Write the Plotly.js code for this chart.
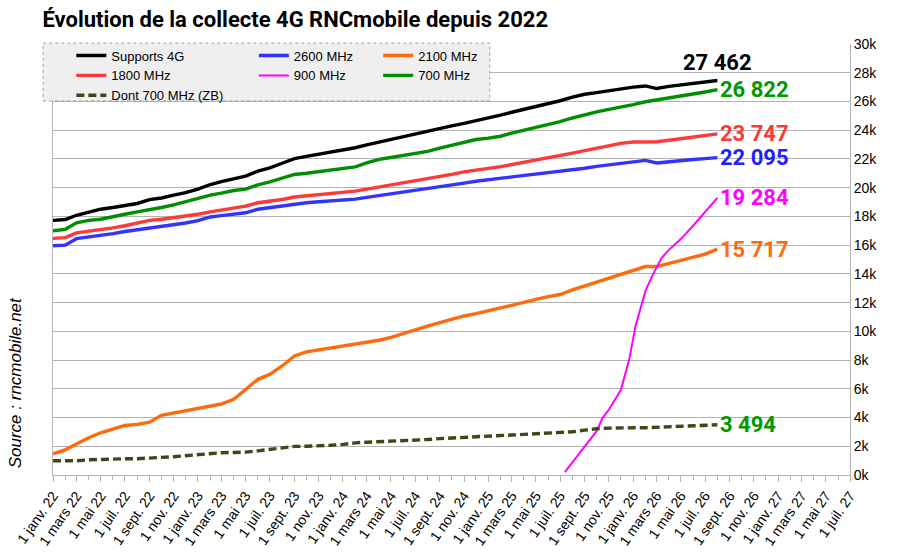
<!DOCTYPE html>
<html>
<head>
<meta charset="utf-8">
<script src="https://cdn.plot.ly/plotly-3.0.1.min.js"></script>
<style>
  html, body { margin: 0; padding: 0; background: #fff; }
  #myDiv { width: 903px; height: 553px; }
</style>
</head>
<body>
<div id="myDiv"></div>
<script>
// values in thousands of sites, one point per month from 1 janv. 22 to 1 août 26
var firstMonth = '2022-01-01';
var supports4G = [17.72, 17.78, 18.08, 18.30, 18.50, 18.62, 18.76, 18.90, 19.17, 19.28, 19.48, 19.65,
  19.90, 20.22, 20.42, 20.62, 20.80, 21.15, 21.38, 21.70, 22.02, 22.18, 22.32, 22.46,
  22.60, 22.78, 22.98, 23.18, 23.36, 23.52, 23.72, 23.96, 24.12, 24.30, 24.48, 24.66,
  24.82, 25.05, 25.25, 25.45, 25.62, 25.85, 26.05, 26.30, 26.50, 26.62, 26.76, 26.88,
  27.00, 27.08, 26.90, 27.05, 27.15, 27.25, 27.36, 27.462];
var mhz2600 = [15.96, 16.00, 16.45, 16.57, 16.65, 16.80, 16.95, 17.06, 17.20, 17.30, 17.42, 17.54,
  17.70, 17.96, 18.05, 18.15, 18.25, 18.50, 18.62, 18.75, 18.88, 18.95, 19.02, 19.08,
  19.12, 19.20, 19.32, 19.44, 19.55, 19.68, 19.80, 19.92, 20.05, 20.18, 20.32, 20.45,
  20.55, 20.65, 20.78, 20.88, 20.96, 21.05, 21.12, 21.22, 21.35, 21.48, 21.60, 21.68,
  21.80, 21.90, 21.72, 21.82, 21.90, 21.96, 22.02, 22.095];
var mhz2100 = [1.47, 1.75, 2.15, 2.59, 2.94, 3.17, 3.45, 3.52, 3.68, 4.15, 4.31, 4.50,
  4.64, 4.80, 4.94, 5.27, 5.97, 6.66, 7.01, 7.59, 8.29, 8.57, 8.71, 8.85,
  8.97, 9.08, 9.24, 9.38, 9.58, 9.85, 10.14, 10.37, 10.60, 10.84, 11.07, 11.23,
  11.46, 11.63, 11.81, 12.04, 12.23, 12.42, 12.56, 12.88, 13.16, 13.44, 13.67, 13.97,
  14.27, 14.51, 14.51, 14.74, 14.95, 15.14, 15.37, 15.717];
var mhz1800 = [16.47, 16.52, 16.85, 16.97, 17.05, 17.20, 17.35, 17.52, 17.72, 17.80, 17.90, 18.02,
  18.15, 18.32, 18.45, 18.58, 18.72, 18.95, 19.05, 19.18, 19.35, 19.42, 19.50, 19.58,
  19.66, 19.76, 19.90, 20.05, 20.18, 20.31, 20.44, 20.58, 20.75, 20.92, 21.10, 21.24,
  21.34, 21.46, 21.60, 21.75, 21.90, 22.05, 22.20, 22.40, 22.58, 22.75, 22.92, 23.08,
  23.18, 23.20, 23.20, 23.30, 23.42, 23.52, 23.62, 23.747];
var mhz700 = [17.00, 17.10, 17.55, 17.72, 17.80, 17.95, 18.15, 18.32, 18.45, 18.62, 18.80, 19.02,
  19.20, 19.48, 19.62, 19.80, 19.90, 20.20, 20.40, 20.65, 20.92, 21.00, 21.10, 21.20,
  21.30, 21.45, 21.72, 21.97, 22.10, 22.25, 22.40, 22.52, 22.75, 22.95, 23.15, 23.35,
  23.45, 23.58, 23.80, 24.00, 24.20, 24.40, 24.60, 24.85, 25.10, 25.28, 25.45, 25.60,
  25.78, 25.98, 26.10, 26.25, 26.38, 26.52, 26.66, 26.822];
var mhz700ZB = [0.99, 0.99, 0.99, 1.06, 1.10, 1.13, 1.13, 1.13, 1.20, 1.23, 1.27, 1.34,
  1.42, 1.50, 1.55, 1.57, 1.59, 1.68, 1.78, 1.87, 1.99, 2.00, 2.01, 2.07,
  2.13, 2.24, 2.28, 2.31, 2.38, 2.42, 2.45, 2.47, 2.53, 2.58, 2.64, 2.68,
  2.72, 2.75, 2.78, 2.82, 2.85, 2.90, 2.95, 3.01, 3.12, 3.22, 3.26, 3.29,
  3.29, 3.29, 3.32, 3.36, 3.38, 3.40, 3.45, 3.494];
// 900 MHz only appears from summer 2025
var dates900 = ['2025-07-13', '2025-09-03', '2025-10-01', '2025-10-16', '2025-11-01', '2025-12-01',
  '2025-12-22', '2026-01-07', '2026-02-01', '2026-02-18', '2026-03-13', '2026-04-01',
  '2026-05-01', '2026-06-01', '2026-07-01', '2026-08-01'];
var mhz900 = [0.2, 2.0, 3.05, 3.98, 4.56, 5.91, 8.05, 10.37, 12.81, 13.86, 15.09, 15.67,
  16.42, 17.35, 18.27, 19.284];

var monthNames = ['janv.', 'févr.', 'mars', 'avr.', 'mai', 'juin', 'juil.', 'août', 'sept.', 'oct.', 'nov.', 'déc.'];
var yearsShown = [22, 23, 24, 25, 26, 27];

function monthDate(y, m) {
  return y + '-' + (m < 9 ? '0' : '') + (m + 1) + '-01';
}

// one date per monthly value
var dates = [];
var y0 = parseInt(firstMonth.slice(0, 4));
for (var i = 0; i < supports4G.length; i++) {
  dates.push(monthDate(y0 + Math.floor(i / 12), i % 12));
}

// labelled ticks every two months, small ticks every month
var tickvals = [], ticktext = [], minorvals = [];
yearsShown.forEach(function(yy) {
  for (var m = 0; m < 12; m++) {
    if (yy == 27 && m > 6) break;
    minorvals.push(monthDate(2000 + yy, m));
    if (m % 2 == 0) {
      tickvals.push(monthDate(2000 + yy, m));
      ticktext.push('1 ' + monthNames[m] + ' ' + yy);
    }
  }
});

function fmt(v) {
  return String(Math.round(v * 1000)).replace(/\B(?=(\d{3})+(?!\d))/g, ' ');
}

var legendFont = {family: 'Liberation Sans, Arial, sans-serif', size: 13, color: '#000'};

var series = [
  {name: 'Supports 4G', y: supports4G, color: '#000000', legend: 'legend'},
  {name: '2600 MHz', y: mhz2600, color: '#3333ff', legend: 'legend2'},
  {name: '2100 MHz', y: mhz2100, color: '#ff6a0d', legend: 'legend3'},
  {name: '1800 MHz', y: mhz1800, color: '#ff3838', legend: 'legend'},
  {name: '900 MHz', y: mhz900, x: dates900, color: '#ff00ff', legend: 'legend2', width: 2},
  {name: '700 MHz', y: mhz700, color: '#008f00', legend: 'legend3'},
  {name: 'Dont 700 MHz (ZB)', y: mhz700ZB, color: '#3a4a17', legend: 'legend', dash: '8px,4px'}
];

var data = series.map(function(s) {
  return {
    x: s.x || dates,
    y: s.y,
    type: 'scatter',
    mode: 'lines',
    name: s.name,
    legend: s.legend,
    line: {color: s.color, width: s.width || 3.4, dash: s.dash || 'solid'},
    hoverinfo: 'skip'
  };
});

// end labels
var labelColor = ['#000000', '#2020ff', '#ff6a0d', '#ff3838', '#ff00ff', '#009900', '#009900'];
var annotations = series.map(function(s, i) {
  var xs = s.x || dates;
  var last = s.y.length - 1;
  var a = {
    x: xs[last], y: s.y[last], xref: 'x', yref: 'y',
    text: fmt(s.y[last]), showarrow: false,
    font: {family: 'Roboto, sans-serif', size: 22, color: labelColor[i], weight: 700},
    xanchor: 'left', yanchor: 'middle', xshift: 1
  };
  if (i == 0) {
    a.xanchor = 'center'; a.yanchor = 'bottom'; a.xshift = 0; a.yshift = 3;
  }
  return a;
});
annotations.push({
  xref: 'paper', yref: 'paper', x: -0.047, y: 0.214,
  xanchor: 'center', yanchor: 'middle',
  text: '<i>Source : rncmobile.net</i>', showarrow: false, textangle: -90,
  font: {family: 'Liberation Sans, Arial, sans-serif', size: 17, color: '#000'}
});

var layout = {
  width: 903,
  height: 553,
  margin: {l: 53, r: 53, t: 44, b: 78},
  paper_bgcolor: '#ffffff',
  plot_bgcolor: '#ffffff',
  title: {
    text: '<b>Évolution de la collecte 4G RNCmobile depuis 2022</b>',
    font: {family: 'Roboto, sans-serif', size: 22, color: '#000'},
    x: 0.047, xanchor: 'left', xref: 'container',
    y: 0.966, yanchor: 'middle', yref: 'container'
  },
  xaxis: {
    type: 'date',
    range: ['2022-01-01', '2027-07-01'],
    tickmode: 'array',
    tickvals: tickvals,
    ticktext: ticktext,
    tickangle: -55,
    ticks: 'outside',
    ticklen: 6,
    tickcolor: '#b3b3b3',
    minor: {tickmode: 'array', tickvals: minorvals, ticks: 'outside', ticklen: 4, tickcolor: '#b3b3b3', showgrid: false},
    showgrid: false,
    showline: true,
    linecolor: '#b3b3b3',
    linewidth: 1,
    zeroline: false,
    tickfont: {family: 'Liberation Sans, Arial, sans-serif', size: 14, color: '#000'}
  },
  yaxis: {
    side: 'right',
    range: [0, 30],
    dtick: 2,
    ticksuffix: 'k',
    showgrid: true,
    gridcolor: '#b3b3b3',
    gridwidth: 1,
    showline: true,
    mirror: true,
    linecolor: '#b3b3b3',
    linewidth: 1,
    zeroline: false,
    ticks: '',
    tickfont: {family: 'Liberation Sans, Arial, sans-serif', size: 14, color: '#000'}
  },
  shapes: [{
    type: 'rect', xref: 'paper', yref: 'paper', layer: 'above',
    x0: -0.0125, x1: 0.548, y0: 0.868, y1: 1.002,
    fillcolor: '#efefef',
    line: {color: '#a0a0a0', width: 1, dash: 'dot'}
  }],
  legend: {x: 0.023, y: 1.008, xanchor: 'left', yanchor: 'top', bgcolor: 'rgba(0,0,0,0)', font: legendFont, tracegroupgap: 0},
  legend2: {x: 0.252, y: 1.008, xanchor: 'left', yanchor: 'top', bgcolor: 'rgba(0,0,0,0)', font: legendFont, tracegroupgap: 0},
  legend3: {x: 0.408, y: 1.008, xanchor: 'left', yanchor: 'top', bgcolor: 'rgba(0,0,0,0)', font: legendFont, tracegroupgap: 0},
  showlegend: true,
  annotations: annotations
};

Plotly.newPlot('myDiv', data, layout, {displayModeBar: false, staticPlot: true});
</script>
</body>
</html>
